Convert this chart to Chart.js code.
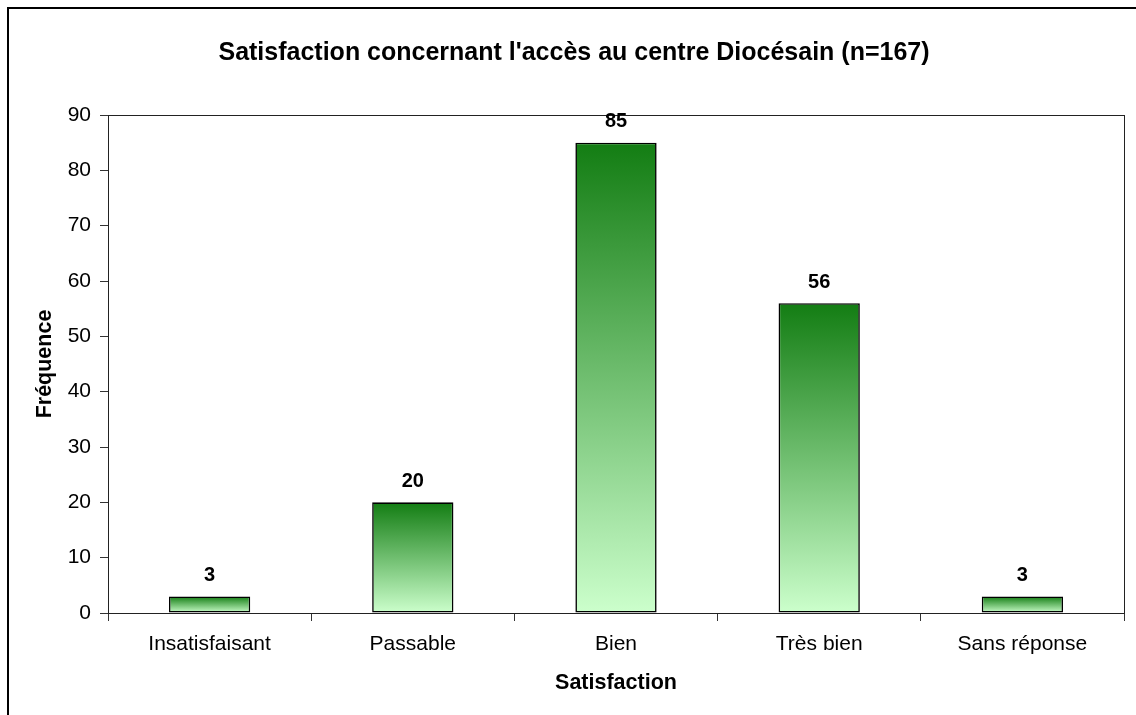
<!DOCTYPE html>
<html>
<head>
<meta charset="utf-8">
<script src="https://cdn.jsdelivr.net/npm/chart.js@4"></script>
<style>
  html, body { margin: 0; padding: 0; background: #fff; }
  #wrap { width: 1136px; height: 715px; }
</style>
</head>
<body>
<div id="wrap"><canvas id="chart"></canvas></div>
<script>
// values
const categories = ['Insatisfaisant', 'Passable', 'Bien', 'Très bien', 'Sans réponse'];
const frequencies = [3, 20, 85, 56, 3];
const titleText = "Satisfaction concernant l'accès au centre Diocésain (n=167)";
const xTitle = 'Satisfaction';
const yTitle = 'Fréquence';

const font = 'Arial, "Liberation Sans", sans-serif';

// green fade, one per bar, from its top down to zero
function barFill(c) {
  const chart = c.chart;
  const y = chart.scales.y;
  if (!y || c.raw == null) return '#66aa66';
  const top = y.getPixelForValue(c.raw);
  const base = y.getPixelForValue(0);
  if (!isFinite(top) || !isFinite(base) || base - top < 1) return '#66aa66';
  const g = chart.ctx.createLinearGradient(0, top, 0, base);
  g.addColorStop(0, '#137d13');
  g.addColorStop(1, '#ccffcc');
  return g;
}

const framePlugin = {
  id: 'frame',
  beforeDraw(chart) {
    const ctx = chart.ctx;
    ctx.save();
    ctx.strokeStyle = '#000';
    ctx.lineWidth = 2;
    ctx.strokeRect(8, 8, 1200, 800);
    ctx.restore();
  },
  beforeDatasetsDraw(chart) {
    const a = chart.chartArea;
    const ctx = chart.ctx;
    ctx.save();
    ctx.strokeStyle = '#222';
    ctx.lineWidth = 1;
    ctx.strokeRect(Math.round(a.left) + 0.5, Math.round(a.top) + 0.5,
      Math.round(a.right - a.left), Math.round(a.bottom - a.top));
    ctx.restore();
  }
};

const valueLabels = {
  id: 'valueLabels',
  afterDatasetsDraw(chart) {
    const ctx = chart.ctx;
    const meta = chart.getDatasetMeta(0);
    ctx.save();
    ctx.font = 'bold 20px ' + font;
    ctx.fillStyle = '#000';
    ctx.textAlign = 'center';
    ctx.textBaseline = 'middle';
    meta.data.forEach((bar, i) => {
      ctx.fillText(String(frequencies[i]), bar.x, bar.y - 21);
    });
    ctx.restore();
  }
};

new Chart(document.getElementById('chart'), {
  type: 'bar',
  data: {
    labels: categories,
    datasets: [{
      data: frequencies,
      backgroundColor: barFill,
      borderColor: '#000',
      borderWidth: 1.6,
      borderSkipped: false,
      barPercentage: 0.4,
      categoryPercentage: 1.0
    }]
  },
  options: {
    responsive: true,
    maintainAspectRatio: false,
    animation: false,
    layout: { padding: { top: 0, right: 12, bottom: 0, left: 24 } },
    plugins: {
      legend: { display: false },
      tooltip: { enabled: false },
      title: {
        display: true,
        text: titleText,
        color: '#000',
        font: { family: font, size: 25, weight: 'bold' },
        padding: { top: 38, bottom: 47 }
      }
    },
    scales: {
      x: {
        grid: { drawOnChartArea: false, tickLength: 8, color: '#333', offset: true },
        border: { display: true, color: '#333' },
        ticks: { color: '#000', font: { family: font, size: 21 }, padding: 11, maxRotation: 0 },
        title: {
          display: true, text: xTitle, color: '#000',
          font: { family: font, size: 21.5, weight: 'bold' },
          padding: { top: 0, bottom: 19 }
        },
        afterFit(s) { s.height = 102; }
      },
      y: {
        min: 0, max: 90,
        grid: { drawOnChartArea: false, tickLength: 8, color: '#333' },
        border: { display: true, color: '#333' },
        ticks: { stepSize: 10, color: '#000', font: { family: font, size: 21 }, padding: 9 },
        title: {
          display: true, text: yTitle, color: '#000',
          font: { family: font, size: 21.5, weight: 'bold' },
          padding: { top: 8, bottom: 0 }
        },
        afterFit(s) { s.width = 84; }
      }
    }
  },
  plugins: [framePlugin, valueLabels]
});
</script>
</body>
</html>
